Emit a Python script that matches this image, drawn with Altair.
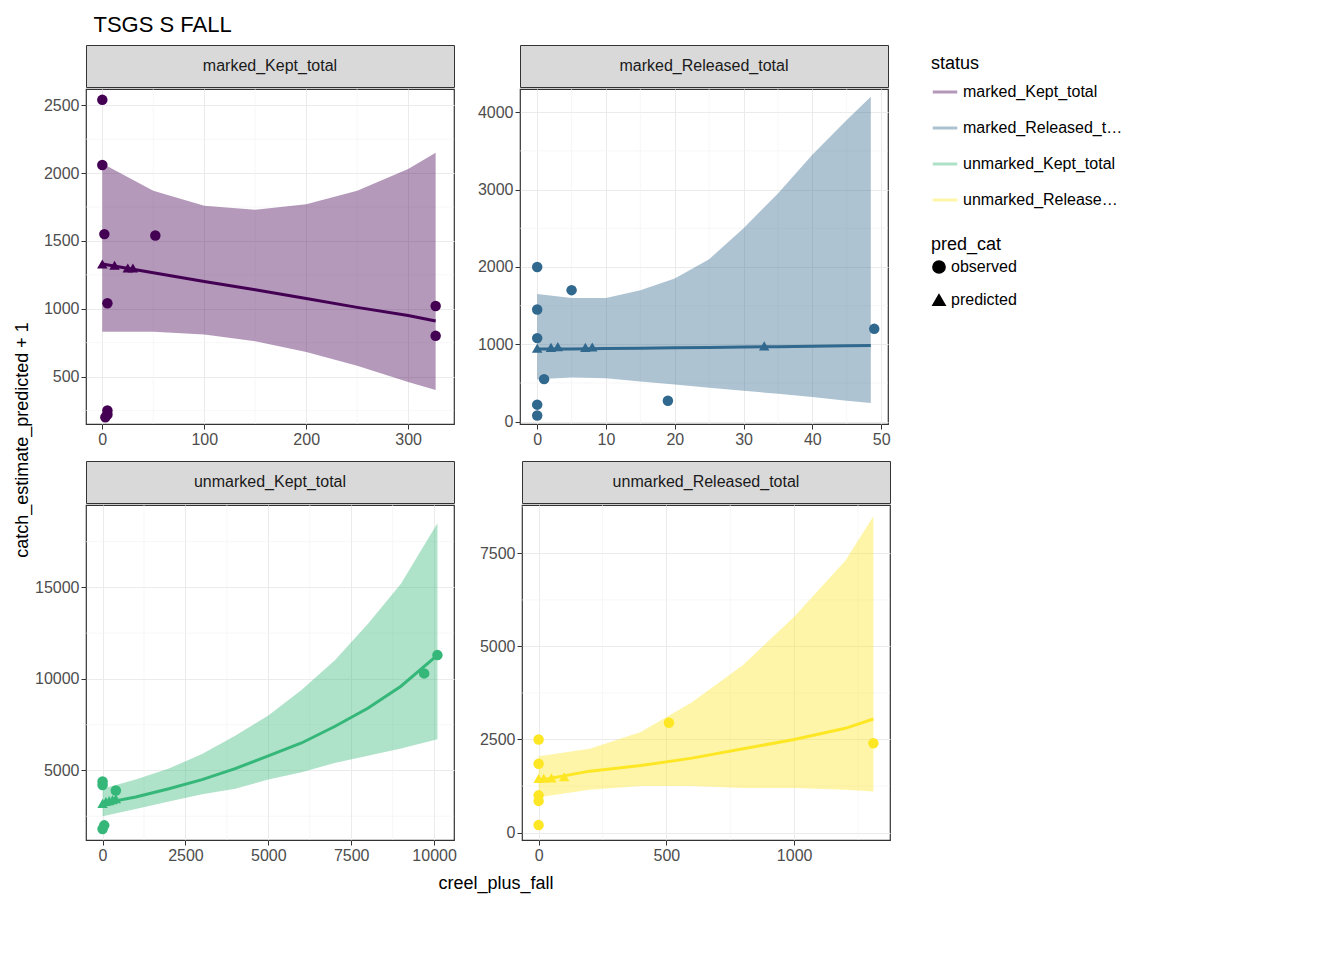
import pandas as pd
import altair as alt

statuses = ["marked_Kept_total", "marked_Released_total", "unmarked_Kept_total", "unmarked_Released_total"]
colors = ["#440154", "#31688E", "#35B779", "#FDE725"]

# observed points per panel
obs_x = {
    "marked_Kept_total": [0, 0, 2, 5, 52, 327, 327, 5, 5, 3],
    "marked_Released_total": [0, 0, 0, 1, 0, 0, 5, 19, 49],
    "unmarked_Kept_total": [0, 0, 400, 0, 50, 9700, 10100],
    "unmarked_Released_total": [0, 0, 0, 0, 0, 510, 1310],
}
obs_y = {
    "marked_Kept_total": [2540, 2060, 1550, 1040, 1540, 1020, 800, 250, 220, 200],
    "marked_Released_total": [2000, 1450, 1080, 550, 220, 80, 1700, 270, 1200],
    "unmarked_Kept_total": [4400, 4200, 3900, 1800, 2000, 10300, 11300],
    "unmarked_Released_total": [2500, 1850, 1000, 850, 200, 2950, 2400],
}
# predicted points
pred_x = {
    "marked_Kept_total": [0, 12, 25, 30],
    "marked_Released_total": [0, 2, 3, 7, 8, 33],
    "unmarked_Kept_total": [0, 100, 200, 300, 400],
    "unmarked_Released_total": [0, 20, 50, 100],
}
pred_y = {
    "marked_Kept_total": [1330, 1320, 1300, 1300],
    "marked_Released_total": [950, 960, 970, 960, 965, 980],
    "unmarked_Kept_total": [3200, 3300, 3350, 3400, 3450],
    "unmarked_Released_total": [1450, 1460, 1470, 1500],
}
# fitted line and confidence band
band_x = {
    "marked_Kept_total": [0, 50, 100, 150, 200, 250, 300, 327],
    "marked_Released_total": [0, 5, 10, 15, 20, 25, 30, 35, 40, 45, 48.5],
    "unmarked_Kept_total": [0, 1000, 2000, 3000, 4000, 5000, 6000, 7000, 8000, 9000, 10100],
    "unmarked_Released_total": [0, 200, 400, 600, 800, 1000, 1200, 1310],
}
band_hi = {
    "marked_Kept_total": [2070, 1870, 1760, 1730, 1770, 1870, 2030, 2150],
    "marked_Released_total": [1650, 1600, 1600, 1700, 1850, 2100, 2500, 2950, 3450, 3900, 4200],
    "unmarked_Kept_total": [4000, 4500, 5100, 5900, 6900, 8000, 9400, 11000, 13000, 15200, 18500],
    "unmarked_Released_total": [2050, 2250, 2700, 3500, 4500, 5800, 7300, 8500],
}
band_lo = {
    "marked_Kept_total": [830, 830, 810, 760, 680, 580, 460, 400],
    "marked_Released_total": [550, 570, 560, 520, 480, 440, 400, 360, 320, 270, 240],
    "unmarked_Kept_total": [2500, 2900, 3300, 3700, 4000, 4500, 4900, 5400, 5800, 6200, 6700],
    "unmarked_Released_total": [950, 1150, 1250, 1250, 1200, 1200, 1150, 1100],
}
fit_y = {
    "marked_Kept_total": [1330, 1265, 1200, 1140, 1075, 1010, 950, 910],
    "marked_Released_total": [940, 940, 945, 950, 955, 960, 965, 970, 975, 980, 985],
    "unmarked_Kept_total": [3200, 3550, 4000, 4500, 5100, 5800, 6500, 7400, 8400, 9600, 11300],
    "unmarked_Released_total": [1400, 1650, 1800, 2000, 2250, 2500, 2800, 3050],
}
x_dom = {
    "marked_Kept_total": [-16, 345],
    "marked_Released_total": [-2.5, 51],
    "unmarked_Kept_total": [-500, 10600],
    "unmarked_Released_total": [-65, 1375],
}
y_dom = {
    "marked_Kept_total": [150, 2620],
    "marked_Released_total": [-30, 4300],
    "unmarked_Kept_total": [1200, 19500],
    "unmarked_Released_total": [-200, 8800],
}
x_ticks = {
    "marked_Kept_total": [0, 100, 200, 300],
    "marked_Released_total": [0, 10, 20, 30, 40, 50],
    "unmarked_Kept_total": [0, 2500, 5000, 7500, 10000],
    "unmarked_Released_total": [0, 500, 1000],
}
y_ticks = {
    "marked_Kept_total": [500, 1000, 1500, 2000, 2500],
    "marked_Released_total": [0, 1000, 2000, 3000, 4000],
    "unmarked_Kept_total": [5000, 10000, 15000],
    "unmarked_Released_total": [0, 2500, 5000, 7500],
}

W, H = 368, 335
FONT = "Liberation Sans"
color_scale = alt.Scale(domain=statuses, range=colors)
shape_scale = alt.Scale(domain=["observed", "predicted"], range=["circle", "triangle-up"])
status_legend = alt.Legend(title="status", symbolType="stroke", symbolStrokeWidth=3,
                           symbolSize=600, orient="right")
shape_legend = alt.Legend(title="pred_cat", symbolFillColor="black",
                          symbolStrokeColor="black", symbolSize=150)


def minor(ticks):
    step = ticks[1] - ticks[0]
    return [t - step / 2 for t in ticks] + [ticks[-1] + step / 2]


def panel(s):
    band = pd.DataFrame({"x": band_x[s], "lo": band_lo[s], "hi": band_hi[s], "fit": fit_y[s], "status": s})
    pts = pd.DataFrame({
        "x": obs_x[s] + pred_x[s],
        "y": obs_y[s] + pred_y[s],
        "pred_cat": ["observed"] * len(obs_x[s]) + ["predicted"] * len(pred_x[s]),
        "status": s,
    })
    xs = alt.Scale(domain=x_dom[s], nice=False, zero=False)
    ys = alt.Scale(domain=y_dom[s], nice=False, zero=False)
    xa = alt.Axis(values=x_ticks[s], title=None, grid=True, format="d")
    ya = alt.Axis(values=y_ticks[s], title=None, grid=True, format="d", minExtent=52)
    mx = pd.DataFrame({"v": [v for v in minor(x_ticks[s]) if x_dom[s][0] < v < x_dom[s][1]]})
    my = pd.DataFrame({"v": [v for v in minor(y_ticks[s]) if y_dom[s][0] < v < y_dom[s][1]]})
    gx = alt.Chart(mx).mark_rule(color="#F2F2F2", strokeWidth=0.6).encode(x=alt.X("v:Q", scale=xs, axis=xa))
    gy = alt.Chart(my).mark_rule(color="#F2F2F2", strokeWidth=0.6).encode(y=alt.Y("v:Q", scale=ys, axis=ya))
    col = alt.Color("status:N", scale=color_scale, legend=status_legend)
    area = alt.Chart(band).mark_area(opacity=0.4).encode(
        x=alt.X("x:Q", scale=xs, axis=xa),
        y=alt.Y("lo:Q", scale=ys, axis=ya),
        y2="hi:Q",
        color=col,
    )
    line = alt.Chart(band).mark_line(strokeWidth=3).encode(
        x=alt.X("x:Q", scale=xs, axis=xa),
        y=alt.Y("fit:Q", scale=ys, axis=ya),
        color=col,
    )
    points = alt.Chart(pts).mark_point(filled=True, size=110, opacity=1).encode(
        x=alt.X("x:Q", scale=xs, axis=xa),
        y=alt.Y("y:Q", scale=ys, axis=ya),
        color=col,
        shape=alt.Shape("pred_cat:N", scale=shape_scale, legend=shape_legend),
    )
    body = alt.layer(gx, gy, area, line, points).properties(width=W, height=H)
    strip = alt.Chart(pd.DataFrame({"t": [s]})).mark_text(
        fontSize=16, font=FONT, color="#1A1A1A"
    ).encode(text="t:N").properties(width=W, height=42, view=alt.ViewConfig(fill="#D9D9D9", stroke="#333333"))
    return alt.vconcat(strip, body, spacing=0)


row1 = alt.hconcat(panel(statuses[0]), panel(statuses[1]), spacing=12)
row2 = alt.hconcat(panel(statuses[2]), panel(statuses[3]), spacing=12)
grid = alt.vconcat(row1, row2, spacing=12)

ytitle = alt.Chart(pd.DataFrame({"t": ["catch_estimate_predicted + 1"]})).mark_text(
    angle=270, fontSize=18, font=FONT, color="black"
).encode(text="t:N").properties(width=14, height=790, view=alt.ViewConfig(stroke="transparent"))
xtitle = alt.Chart(pd.DataFrame({"t": ["creel_plus_fall"]})).mark_text(
    fontSize=18, font=FONT, color="black", dx=30
).encode(text="t:N").properties(width=760, height=14, view=alt.ViewConfig(stroke="transparent"))

chart = alt.hconcat(ytitle, alt.vconcat(grid, xtitle, spacing=10), spacing=0).properties(
    title=alt.TitleParams("TSGS S FALL", anchor="start", fontSize=22, font=FONT, fontWeight="normal",
                          offset=8, dx=80)
).configure_view(stroke="#333333", strokeWidth=1.2).configure_axis(
    gridColor="#EBEBEB", labelFont=FONT, labelFontSize=16, labelColor="#4D4D4D",
    domain=False, tickColor="#333333", tickSize=5
).configure_legend(
    titleFont=FONT, titleFontSize=18, titleFontWeight="normal", labelFont=FONT, labelFontSize=16,
    labelColor="black", titleColor="black", rowPadding=14, padding=10, offset=30
)

chart.save("out.html", embed_options={"renderer": "svg", "actions": False})
